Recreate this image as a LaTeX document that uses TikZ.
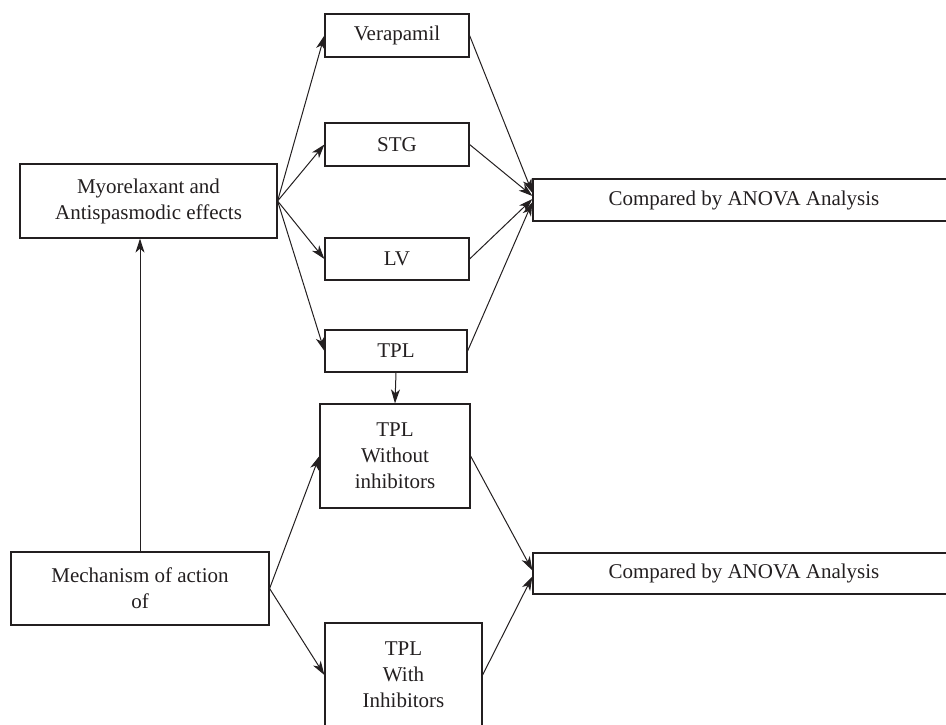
\documentclass[tikz,border=0pt]{standalone}
\usepackage{fontspec}
\setmainfont{Liberation Serif}
\usetikzlibrary{arrows.meta}
\definecolor{ink}{HTML}{231F20}
\begin{document}
\begin{tikzpicture}[x=1pt,y=-1pt,
  box/.style={draw=ink,line width=1.2pt,text=ink,inner sep=0pt,align=center,
    font=\fontsize{21}{26}\selectfont},
  conn/.style={draw=ink,line width=1pt,-{Stealth[length=14pt,width=9pt,inset=4pt]}}]
\useasboundingbox (0,0) rectangle (946,724);
\clip (0,0) rectangle (946,724);
\node[box,minimum width=144pt,minimum height=43pt] (vera) at (397,35.5) {Verapamil};
\node[box,minimum width=144pt,minimum height=43pt] (stg) at (397,144.5) {STG};
\node[box,minimum width=144pt,minimum height=42pt] (lv) at (397,259) {LV};
\node[box,minimum width=142pt,minimum height=42pt] (tpl) at (396,351) {TPL};
\node[box,minimum width=257pt,minimum height=74pt] (myo) at (148.5,201) {Myorelaxant and\\Antispasmodic effects};
\node[box,minimum width=422pt,minimum height=42pt] (cmp1) at (744,200) {Compared by ANOVA Analysis};
\node[box,minimum width=150pt,minimum height=104pt] (tplwo) at (395,456) {TPL\\Without\\inhibitors};
\node[box,minimum width=258pt,minimum height=73pt] (mech) at (140,588.5) {Mechanism of action\\of};
\node[box,minimum width=422pt,minimum height=41pt] (cmp2) at (744,573.5) {Compared by ANOVA Analysis};
\node[box,minimum width=157pt,minimum height=104pt] (tplw) at (403.5,675) {TPL\\With\\Inhibitors};

\draw[conn] (myo.east) -- (vera.west);
\draw[conn] (myo.east) -- (stg.west);
\draw[conn] (myo.east) -- (lv.west);
\draw[conn] (myo.east) -- (tpl.west);
\draw[conn] (vera.east) -- ([yshift=7pt]cmp1.west);
\draw[conn] (stg.east) -- ([yshift=4pt]cmp1.west);
\draw[conn] (lv.east) -- ([yshift=1pt]cmp1.west);
\draw[conn] (tpl.east) -- ([yshift=-2pt]cmp1.west);
\draw[conn] (tpl.south) -- (tplwo.north);
\draw[conn] (mech.north) -- (mech.north |- myo.south);
\draw[conn] (mech.east) -- (tplwo.west);
\draw[conn] (mech.east) -- (tplw.west);
\draw[conn] (tplwo.east) -- ([yshift=3pt]cmp2.west);
\draw[conn] (tplw.east) -- ([yshift=-3pt]cmp2.west);
\end{tikzpicture}
\end{document}
